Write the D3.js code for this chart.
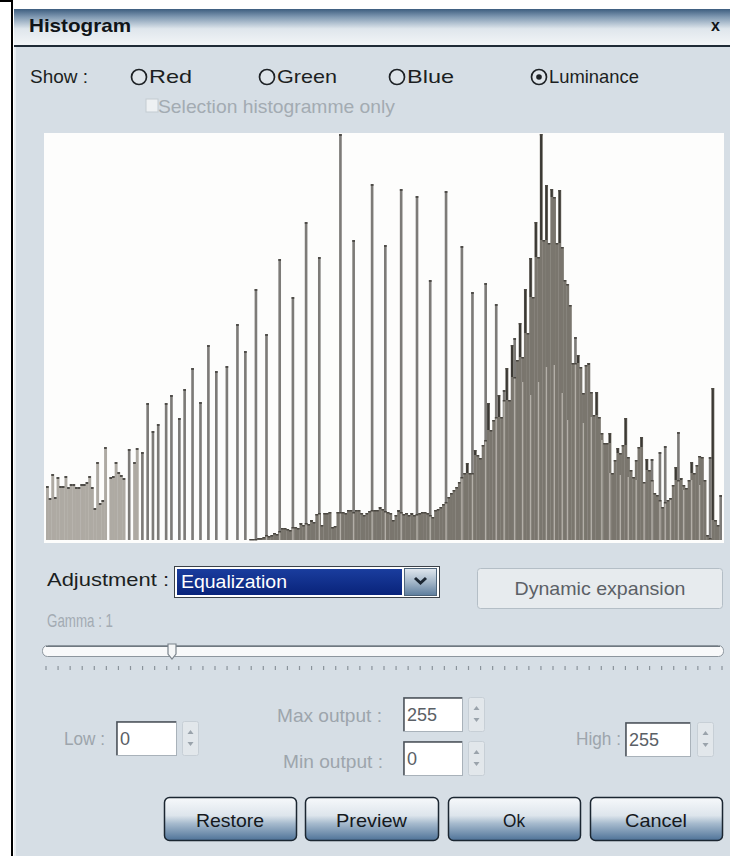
<!DOCTYPE html>
<html>
<head>
<meta charset="utf-8">
<script src="https://cdn.jsdelivr.net/npm/d3@7"></script>
<style>
  html, body { margin: 0; padding: 0; background: #fff; }
  svg { display: block; font-family: "Liberation Sans", Arial, sans-serif; }
</style>
</head>
<body>
<svg id="chart" width="730" height="856"></svg>
<script>
const channels = ['Red', 'Green', 'Blue', 'Luminance'];
const selectedChannel = 'Luminance';
const adjustment = 'Equalization';
const gammaLabel = 'Gamma : 1';
const low = '0', high = '255', maxOutput = '255', minOutput = '0';
const buttons = ['Restore', 'Preview', 'Ok', 'Cancel'];

// 256 luminance levels
const bins = d3.range(256);

// equalized histogram (light bars), bar heights in screen units
const equalized = [
  54, 42, 66, 43, 63, 54, 54, 64, 53, 56,
  56, 53, 53, 56, 56, 58, 64, 53, 32, 78,
  37, 40, 93, 0, 63, 64, 78, 68, 65, 62,
  0, 91, 0, 78, 92, 0, 88, 0, 137, 0,
  109, 0, 116, 0, 0, 137, 0, 145, 0, 0,
  122, 0, 151, 0, 0, 172, 0, 0, 138, 0,
  0, 195, 0, 0, 169, 0, 0, 0, 174, 0,
  0, 0, 216, 0, 0, 189, 0, 0, 0, 251,
  0, 0, 0, 206, 0, 0, 0, 0, 281, 0,
  0, 0, 0, 243, 0, 0, 0, 0, 318, 0,
  0, 0, 0, 283, 0, 0, 0, 0, 0, 0,
  0, 406, 0, 0, 0, 0, 300, 0, 0, 0,
  0, 0, 0, 356, 0, 0, 0, 0, 295, 0,
  0, 0, 0, 0, 351, 0, 0, 0, 0, 0,
  344, 0, 0, 0, 0, 260, 0, 0, 0, 0,
  0, 349, 0, 0, 0, 0, 0, 294, 0, 0,
  0, 248, 0, 0, 0, 0, 257, 0, 0, 0,
  236, 0, 0, 150, 0, 0, 0, 202, 0, 0,
  158, 0, 0, 145, 0, 0, 158, 0, 0, 173,
  0, 0, 175, 0, 0, 147, 0, 120, 0, 0,
  203, 0, 0, 117, 0, 0, 123, 0, 0, 0,
  100, 0, 0, 67, 0, 0, 0, 65, 0, 0,
  63, 0, 0, 60, 0, 0, 57, 0, 0, 81,
  0, 0, 88, 0, 94, 0, 40, 0, 0, 108,
  0, 50, 0, 0, 60, 0, 0, 55, 0, 0,
  0, 83, 0, 0, 0, 45
];

// original histogram (dark bars)
const original = [
  0, 0, 0, 0, 0, 0, 0, 0, 0, 0,
  0, 0, 0, 0, 0, 0, 0, 0, 0, 0,
  0, 0, 0, 0, 0, 0, 0, 0, 0, 0,
  0, 0, 0, 0, 0, 0, 0, 0, 0, 0,
  0, 0, 0, 0, 0, 0, 0, 0, 0, 0,
  0, 0, 0, 0, 0, 0, 0, 0, 0, 0,
  0, 0, 0, 0, 0, 0, 0, 0, 0, 0,
  0, 0, 0, 0, 0, 0, 0, 1, 1, 1,
  2, 2, 3, 5, 4, 5, 7, 6, 9, 12,
  12, 11, 10, 13, 13, 12, 17, 15, 17, 16,
  20, 18, 26, 27, 15, 27, 27, 28, 13, 14,
  28, 28, 28, 27, 30, 30, 28, 30, 30, 27,
  25, 27, 29, 30, 30, 30, 33, 31, 29, 28,
  27, 20, 25, 30, 28, 26, 27, 25, 27, 25,
  26, 27, 28, 28, 27, 25, 23, 30, 31, 33,
  36, 38, 43, 47, 50, 53, 58, 63, 67, 77,
  67, 67, 90, 85, 82, 95, 100, 137, 110, 120,
  123, 145, 123, 140, 172, 140, 195, 163, 180, 217,
  183, 251, 207, 282, 243, 318, 283, 406, 300, 355,
  297, 351, 343, 297, 350, 293, 260, 256, 235, 177,
  177, 185, 173, 147, 175, 177, 148, 125, 148, 123,
  107, 97, 97, 107, 67, 80, 92, 87, 95, 122,
  83, 70, 63, 80, 93, 103, 58, 81, 70, 60,
  47, 45, 40, 33, 38, 40, 42, 55, 73, 60,
  62, 55, 52, 60, 78, 67, 75, 84, 83, 60,
  5, 2, 152, 20, 15, 0
];

const svg = d3.select('#chart');
const W = 730, H = 856;
const defs = svg.append('defs');

function grad(id, stops) {
  const g = defs.append('linearGradient').attr('id', id)
    .attr('x1', 0).attr('y1', 0).attr('x2', 0).attr('y2', 1);
  stops.forEach(s => g.append('stop').attr('offset', s[0]).attr('stop-color', s[1]));
}
grad('titleGrad', [[0, '#3d5d7f'], [0.22, '#8099b2'], [0.55, '#dfe6ec'], [1, '#f2f5f7']]);
grad('btnGrad', [[0, '#f7f9fb'], [0.42, '#dde5ec'], [0.6, '#a7bbce'], [1, '#4e7298']]);
grad('ddGrad', [[0, '#e1e8ef'], [0.5, '#a4b7c9'], [1, '#5d7d9d']]);
grad('selGrad', [[0, '#1a3d9e'], [1, '#09237a']]);

function label(str, x, y, w, opt) {
  opt = opt || {};
  const t = svg.append('text')
    .attr('x', x).attr('y', y)
    .attr('font-size', opt.size || 19)
    .attr('font-weight', opt.weight || 'normal')
    .attr('fill', opt.color || '#1c1f22')
    .attr('text-anchor', opt.anchor || 'start')
    .text(str);
  if (w) t.attr('textLength', w).attr('lengthAdjust', 'spacingAndGlyphs');
  return t;
}

// page frame
svg.append('rect').attr('width', W).attr('height', H).attr('fill', '#fff');
svg.append('rect').attr('x', 0).attr('y', 0).attr('width', 13).attr('height', 2).attr('fill', '#000');
svg.append('rect').attr('x', 11).attr('y', 0).attr('width', 2).attr('height', H).attr('fill', '#000');

// dialog body + title bar
svg.append('rect').attr('x', 14).attr('y', 9).attr('width', W - 14).attr('height', H - 9).attr('fill', '#d6dee5');
svg.append('rect').attr('x', 14).attr('y', 9).attr('width', W - 14).attr('height', 36).attr('fill', 'url(#titleGrad)');
svg.append('rect').attr('x', 14).attr('y', 45).attr('width', W - 14).attr('height', 2).attr('fill', '#1f2b37');
svg.append('rect').attr('x', 14).attr('y', 47).attr('width', 2).attr('height', H - 47).attr('fill', '#e8edf1');
label('Histogram', 29, 32, 102, { size: 19, weight: 'bold', color: '#101418' });
label('x', 711, 31, null, { size: 16, weight: 'bold', color: '#101418' });

// channel radio buttons
label('Show :', 30, 83, 58);
const radioX = [139, 267, 397, 539];
const radioW = [43, 60, 47, 90];
channels.forEach((c, i) => {
  svg.append('circle').attr('cx', radioX[i]).attr('cy', 77).attr('r', 7.5)
    .attr('fill', '#dfe5ea').attr('stroke', '#1e2226').attr('stroke-width', 1.7);
  if (c === selectedChannel) {
    svg.append('circle').attr('cx', radioX[i]).attr('cy', 77).attr('r', 2.8).attr('fill', '#1e2226');
  }
  label(c, radioX[i] + 10, 83, radioW[i]);
});
svg.append('rect').attr('x', 146).attr('y', 99).attr('width', 12).attr('height', 13)
  .attr('fill', '#eef1f3').attr('stroke', '#c3cbd2');
label('Selection histogramme only', 158, 113, 237, { color: '#a3abb2' });

// ---- histogram ----
svg.append('rect').attr('x', 44).attr('y', 133).attr('width', 680).attr('height', 410).attr('fill', '#fdfdfc');

const x = d3.scaleBand().domain(bins).range([46, 722]).padding(0);
const y = d3.scaleLinear().domain([0, d3.max(original.concat(equalized))]).range([540, 134]);
const bw = x.bandwidth();
const val = (arr, i) => (i >= 0 && i < arr.length ? arr[i] : 0);
const isolated = i => val(equalized, i - 1) === 0 && val(equalized, i + 1) === 0;
const plot = svg.append('g');

// equalized bars
plot.selectAll('.eq')
  .data(bins.filter(i => equalized[i] > 0))
  .join('rect')
  .attr('class', 'eq')
  .attr('x', i => isolated(i) ? x(i) : x(i))
  .attr('width', i => isolated(i) ? bw : bw + 0.3)
  .attr('y', i => y(equalized[i]))
  .attr('height', i => y(0) - y(equalized[i]))
  .attr('fill', i => isolated(i) ? '#7d7b78' : '#aeaaa3');

// original bars
plot.selectAll('.orig')
  .data(bins.filter(i => original[i] > 0))
  .join('rect')
  .attr('class', 'orig')
  .attr('x', i => x(i))
  .attr('width', bw + 0.3)
  .attr('y', i => y(original[i]))
  .attr('height', i => y(0) - y(original[i]))
  .attr('fill', '#7a766e');

// equalized levels showing through the original mass
plot.selectAll('.stripe')
  .data(bins.filter(i => equalized[i] > 0 && original[i] > 0))
  .join('rect')
  .attr('class', 'stripe')
  .attr('x', i => x(i) + bw / 2 - 0.7)
  .attr('width', 1.4)
  .attr('y', i => y(Math.min(equalized[i], original[i])))
  .attr('height', i => y(0) - y(Math.min(equalized[i], original[i])))
  .attr('fill', '#b3afa8');

// dark tips where a level pokes above its neighbours
plot.selectAll('.tip')
  .data(bins.filter(i => original[i] > Math.max(val(original, i - 1), val(original, i + 1))))
  .join('rect')
  .attr('class', 'tip')
  .attr('x', i => x(i) + 0.3)
  .attr('width', bw - 0.6)
  .attr('y', i => y(original[i]))
  .attr('height', i => y(Math.max(val(original, i - 1), val(original, i + 1))) - y(original[i]))
  .attr('fill', '#3b3934');

// top caps
plot.selectAll('.ocap')
  .data(bins.filter(i => original[i] > 0))
  .join('rect')
  .attr('class', 'ocap')
  .attr('x', i => x(i))
  .attr('width', bw)
  .attr('y', i => y(original[i]))
  .attr('height', 1.5)
  .attr('fill', '#4a4741');
plot.selectAll('.ecap')
  .data(bins.filter(i => equalized[i] > original[i]))
  .join('rect')
  .attr('class', 'ecap')
  .attr('x', i => x(i))
  .attr('width', bw)
  .attr('y', i => y(equalized[i]))
  .attr('height', 2)
  .attr('fill', '#4f4d49');

// ---- adjustment row ----
label('Adjustment :', 47, 586, 122);
svg.append('rect').attr('x', 174.5).attr('y', 566.5).attr('width', 265).attr('height', 31)
  .attr('fill', '#fff').attr('stroke', '#3b4148');
svg.append('rect').attr('x', 177).attr('y', 569).attr('width', 225).attr('height', 26).attr('fill', 'url(#selGrad)');
label(adjustment, 181, 588, 106, { color: '#fff' });
svg.append('rect').attr('x', 404.5).attr('y', 568.5).attr('width', 32).attr('height', 27)
  .attr('fill', 'url(#ddGrad)').attr('stroke', '#4e657b');
svg.append('path').attr('d', 'M415,578 l5.5,5 l5.5,-5')
  .attr('fill', 'none').attr('stroke', '#1c2733').attr('stroke-width', 3);

svg.append('rect').attr('x', 477.5).attr('y', 568.5).attr('width', 245).attr('height', 40).attr('rx', 3)
  .attr('fill', '#e7ebee').attr('stroke', '#b4bec6');
label('Dynamic expansion', 600, 595, 171, { anchor: 'middle', color: '#5b6066' });

// ---- gamma slider ----
label(gammaLabel, 47, 627, 66, { color: '#a3abb3' });
svg.append('rect').attr('x', 42.5).attr('y', 645.5).attr('width', 681).attr('height', 11).attr('rx', 5)
  .attr('fill', '#f8f9fa').attr('stroke', '#8d969e');
svg.append('line').attr('x1', 46).attr('x2', 720).attr('y1', 646.5).attr('y2', 646.5)
  .attr('stroke', '#6f7880').attr('stroke-width', 1);
const slider = d3.scaleLinear().domain([0, 56]).range([46, 722]);
svg.selectAll('.stick')
  .data(slider.ticks(56))
  .join('line')
  .attr('class', 'stick')
  .attr('x1', d => slider(d)).attr('x2', d => slider(d))
  .attr('y1', 666).attr('y2', 670)
  .attr('stroke', '#8a939b').attr('stroke-width', 1.2);
svg.append('path').attr('d', 'M168,644 v10 l4,5 l4,-5 v-10 z')
  .attr('fill', '#f4f6f7').attr('stroke', '#7b848c').attr('stroke-width', 1.2);

// ---- input fields ----
function field(x0, y0, w, h, value) {
  svg.append('rect').attr('x', x0 + 0.5).attr('y', y0 + 0.5).attr('width', w).attr('height', h)
    .attr('fill', '#fff').attr('stroke', '#a9b2ba');
  svg.append('path').attr('d', `M${x0 + 1},${y0 + h} V${y0 + 1} H${x0 + w}`)
    .attr('fill', 'none').attr('stroke', '#4a5058').attr('stroke-width', 1.5);
  label(value, x0 + 4, y0 + h / 2 + 7, null, { color: '#5a6066', size: 18 });
}
function spinner(x0, y0, h) {
  svg.append('rect').attr('x', x0 + 0.5).attr('y', y0 + 0.5).attr('width', 16).attr('height', h).attr('rx', 2)
    .attr('fill', '#e2e7eb').attr('stroke', '#c7cfd6');
  const cx = x0 + 8.5;
  svg.append('path').attr('d', `M${cx - 3},${y0 + h / 2 - 4} l3,-4 l3,4 z`).attr('fill', '#9aa3ab');
  svg.append('path').attr('d', `M${cx - 3},${y0 + h / 2 + 4} l3,4 l3,-4 z`).attr('fill', '#9aa3ab');
}
label('Low :', 64, 745, 41, { color: '#9da5ac' });
field(116, 721, 60, 34, low);
spinner(182, 721, 34);
label('Max output :', 277, 722, 105, { color: '#9da5ac' });
field(403, 697, 59, 34, maxOutput);
spinner(468, 697, 34);
label('Min output :', 283, 768, 100, { color: '#9da5ac' });
field(403, 741, 59, 34, minOutput);
spinner(468, 741, 34);
label('High :', 576, 745, 45, { color: '#9da5ac' });
field(625, 722, 65, 34, high);
spinner(697, 722, 34);

// ---- buttons ----
const btnX = [164, 305, 448, 590];
const btnW = [132, 133, 132, 132];
const btnTextW = [68, 71, 22, 62];
buttons.forEach((b, i) => {
  svg.append('rect').attr('x', btnX[i] + 0.5).attr('y', 797.5).attr('width', btnW[i]).attr('height', 43).attr('rx', 5)
    .attr('fill', 'url(#btnGrad)').attr('stroke', '#1b2631').attr('stroke-width', 1.5);
  label(b, btnX[i] + btnW[i] / 2, 827, btnTextW[i], { anchor: 'middle', color: '#15191d' });
});
</script>
</body>
</html>
